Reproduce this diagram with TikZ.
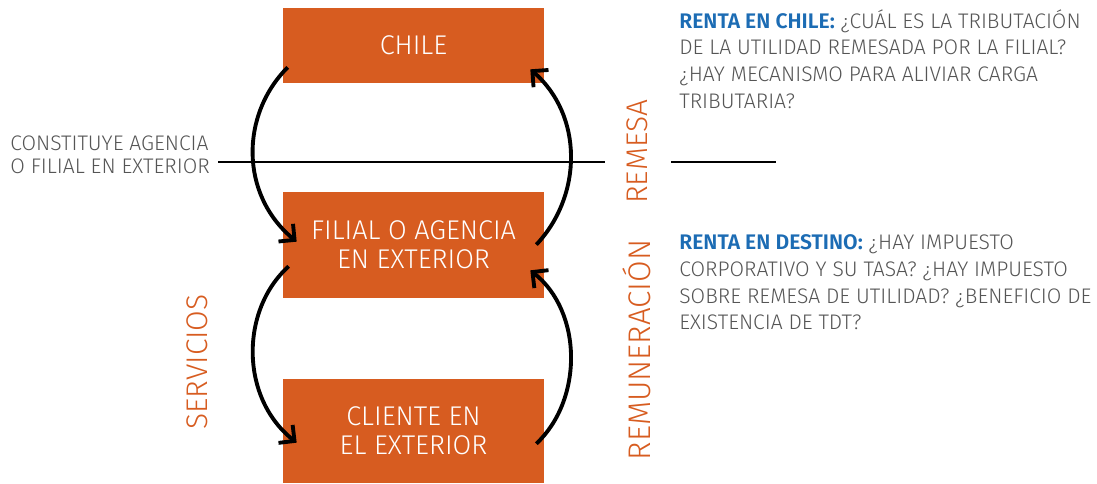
\documentclass[tikz,border=0pt]{standalone}
\usepackage{fontspec}
\setmainfont{Fira Sans Light}[BoldFont={Fira Sans SemiBold}]
\usetikzlibrary{arrows.meta,calc}
\definecolor{orng}{RGB}{215,92,32}
\definecolor{blu}{RGB}{28,108,180}
\definecolor{txt}{RGB}{85,85,85}
\begin{document}
\begin{tikzpicture}[x=0.02cm,y=-0.02cm,
  box/.style={fill=orng, text=white, draw=none, inner sep=0pt, align=center,
    minimum width=5.22cm, font=\fontsize{15.4}{16.5}\selectfont},
  arc/.style={line width=2.2pt, -{Straight Barb[length=6.5pt,width=13pt,line width=2.2pt]}},
  side/.style={rotate=90, text=orng, inner sep=0pt, font=\fontsize{17}{20}\selectfont},
  note/.style={text=txt, inner sep=0pt, align=left, anchor=north west,
    font=\fontsize{12}{15.3}\selectfont},
  rule/.style={line width=0.6pt}]
\useasboundingbox (0,0) rectangle (1097,483);
\node[box, minimum height=1.5cm] (chile) at (413.5,45.5) {CHILE};
\node[box, minimum height=2.12cm] (filial) at (413.5,245) {FILIAL O AGENCIA\\EN EXTERIOR};
\node[box, minimum height=2.08cm] (cliente) at (413.5,431) {CLIENTE EN\\EL EXTERIOR};

\node[note, font=\fontsize{12}{13.6}\selectfont] (constituye) at (10,135) {CONSTITUYE AGENCIA\\O FILIAL EN EXTERIOR};
\coordinate (l1a) at (218,162);
\coordinate (l1b) at (605,162);
\coordinate (l2a) at (671,162);
\coordinate (l2b) at (776,162);
\draw[rule] (l1a) -- (l1b);
\draw[rule] (l2a) -- (l2b);

\draw[arc] ($(chile.south west)+(5,-16)$) .. controls (240,115) and (240,195) .. ($(filial.north west)+(14,50)$);
\draw[arc] ($(filial.north east)+(-8,53)$) .. controls (583,195) and (583,115) .. ($(chile.south east)+(-14,-14)$);
\draw[arc] ($(filial.south west)+(6,-32)$) .. controls (240,310) and (240,398) .. ($(cliente.north west)+(14,64)$);
\draw[arc] ($(cliente.north east)+(-8,65)$) .. controls (583,400) and (583,312) .. ($(filial.south east)+(-14,-28)$);

\node[side] (remesa) at (637,152) {REMESA};
\node[side, font=\fontsize{17.8}{20}\selectfont] (remun) at (637,350) {REMUNERACIÓN};
\node[side] (serv) at (197,362) {SERVICIOS};

\node[note] (n1) at (679,9) {\textcolor{blu}{\textbf{RENTA EN CHILE:}} ¿CUÁL ES LA TRIBUTACIÓN\\DE LA UTILIDAD REMESADA POR LA FILIAL?\\¿HAY MECANISMO PARA ALIVIAR CARGA\\TRIBUTARIA?};
\node[note] (n2) at (679,234) {\textcolor{blu}{\textbf{RENTA EN DESTINO:}} ¿HAY IMPUESTO\\CORPORATIVO Y SU TASA? ¿HAY IMPUESTO\\SOBRE REMESA DE UTILIDAD? ¿BENEFICIO DE\\EXISTENCIA DE TDT?};
\end{tikzpicture}
\end{document}
